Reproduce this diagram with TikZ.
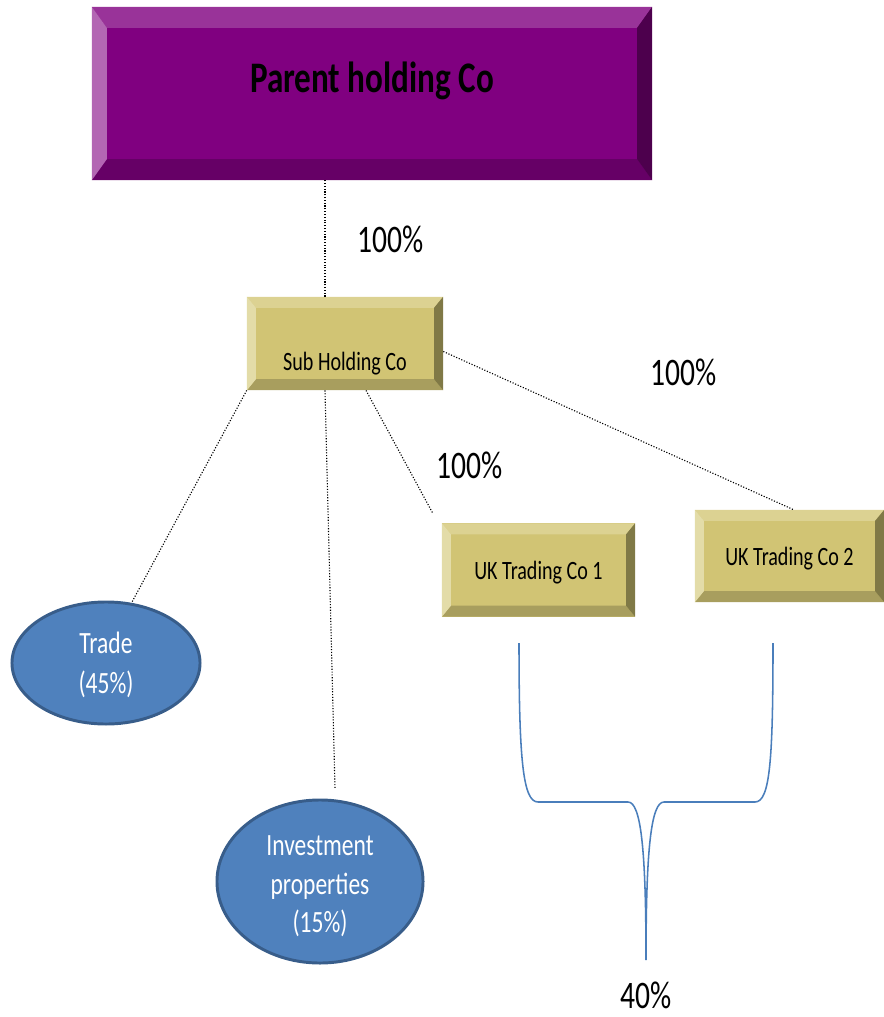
\documentclass[tikz,border=0pt]{standalone}
\usepackage{fontspec}
\setmainfont{Carlito}[FakeStretch=0.76]
\usepackage{xcolor}
\usetikzlibrary{calc,shapes.geometric}
\definecolor{parface}{HTML}{800080}
\definecolor{partop}{HTML}{993399}
\definecolor{parleft}{HTML}{B366B3}
\definecolor{parright}{HTML}{4D004D}
\definecolor{parbot}{HTML}{660066}
\definecolor{subface}{RGB}{209,196,116}
\definecolor{subtop}{RGB}{220,210,146}
\definecolor{subleft}{RGB}{227,220,168}
\definecolor{subright}{RGB}{128,121,70}
\definecolor{subbot}{RGB}{168,158,94}
\definecolor{ovalfill}{HTML}{4F81BD}
\definecolor{ovaledge}{HTML}{385D8A}
\definecolor{bracecol}{HTML}{4A7EBB}

\begin{document}
\begin{tikzpicture}[
  x=0.025cm, y=-0.025cm,
  bevelbox/.style n args={3}{rectangle, inner sep=0pt, fill=#1face, path picture={
    \coordinate (bnw) at (path picture bounding box.north west);
    \coordinate (bne) at (path picture bounding box.north east);
    \coordinate (bsw) at (path picture bounding box.south west);
    \coordinate (bse) at (path picture bounding box.south east);
    \fill[#1top] (bnw) -- (bne) -- ($(bne)+(-#2,#3)$) -- ($(bnw)+(#2,#3)$) -- cycle;
    \fill[#1bot] (bsw) -- (bse) -- ($(bse)+(-#2,-#3)$) -- ($(bsw)+(#2,-#3)$) -- cycle;
    \fill[#1left] (bnw) -- ($(bnw)+(#2,#3)$) -- ($(bsw)+(#2,-#3)$) -- (bsw) -- cycle;
    \fill[#1right] (bne) -- ($(bne)+(-#2,#3)$) -- ($(bse)+(-#2,-#3)$) -- (bse) -- cycle;
  }},
  parentbox/.style={bevelbox={par}{15}{21}, minimum width=14cm, minimum height=4.325cm, font=\fontsize{31}{37}\selectfont\bfseries},
  subbox/.style={bevelbox={sub}{9}{11}, minimum height=2.33cm, font=\fontsize{18.8}{22}\selectfont},
  oval/.style={ellipse, inner sep=0pt, fill=ovalfill, draw=ovaledge, line width=2.1pt, text=white, font=\fontsize{22}{29}\selectfont},
  link/.style={draw=black, line width=0.8pt, dash pattern=on 0.8pt off 1.2pt},
  pct/.style={anchor=base, font=\fontsize{27.7}{32}\selectfont},
  brace/.style={draw=bracecol, line width=1.1pt}
]
  \useasboundingbox (0,0) rectangle (883,1017);

  \node[parentbox] (parent) at (372,93.5) {\raisebox{1pt}[0pt][0pt]{Parent holding Co}};
  \node[subbox, minimum width=4.9cm] (sub) at (345,343.5) {\raisebox{-18.9pt}[0pt][0pt]{Sub Holding Co}};
  \node[subbox, minimum width=4.825cm] (uk1) at (538.5,570) {\raisebox{-7.1pt}[0pt][0pt]{UK Trading Co 1}};
  \node[subbox, minimum width=4.725cm, minimum height=2.3cm] (uk2) at (789.5,556) {\raisebox{-7.1pt}[0pt][0pt]{UK Trading Co 2}};
  \node[oval, minimum width=4.7cm, minimum height=3.05cm] (trade) at (106,663)
    {\raisebox{-22pt}[0pt][0pt]{\begin{tabular}[b]{@{}c@{}}Trade\\(45\%)\end{tabular}}};
  \node[oval, minimum width=5.15cm, minimum height=4.075cm, font=\fontsize{22}{27.7}\selectfont] (invest) at (320,881.5)
    {\raisebox{-36.6pt}[0pt][0pt]{\begin{tabular}[b]{@{}c@{}}Investment\\properties\\(15\%)\end{tabular}}};

  \node[pct] (p1) at (390.5,252) {100\%};
  \node[pct] (p2) at (683.5,385) {100\%};
  \node[pct] (p3) at (469.5,478) {100\%};
  \node[pct] (p4) at (646,1008) {40\%};

  \draw[link] ([xshift=-0.5cm]sub.north) -- ([xshift=-0.5cm]sub.north |- parent.south);
  \draw[link] (sub.south west) -- (trade.67);
  \draw[link] ([xshift=-0.5cm]sub.south) -- ($(invest.north)+(15,-10)$);
  \draw[link] ([xshift=0.525cm]sub.south) -- ($(uk1.north west)+(-9,-10)$);
  \draw[link] ($(sub.east)+(0,8)$) -- ([xshift=0.1cm]uk2.north);

  \coordinate (tip) at (646,960);
  \draw[brace] (519,643) .. controls (519,760) and (523,802) .. (538,802) -- (628,802)
    .. controls (641,802) and (646,850) .. (tip)
    .. controls (646,850) and (651,802) .. (664,802) -- (755,802)
    .. controls (770,802) and (773,760) .. (773,643);
\end{tikzpicture}
\end{document}
